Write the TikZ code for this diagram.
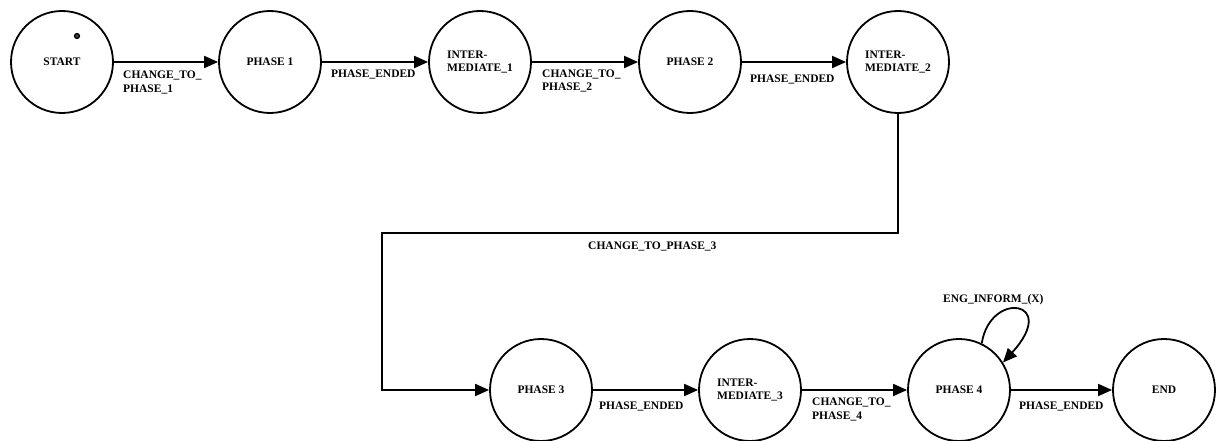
\documentclass[tikz,border=0pt]{standalone}
\usepackage{fontspec}
\setmainfont{Liberation Serif}
\usetikzlibrary{arrows.meta}
\begin{document}
\begin{tikzpicture}[x=1pt,y=-1pt]
\tikzstyle{state}=[draw,circle,line width=1.8pt,minimum size=102pt,inner sep=0pt,align=left,font=\fontsize{11.5}{13.5}\selectfont\bfseries]
\tikzstyle{arr}=[line width=1.8pt,-{Triangle[length=14pt,width=12pt]}]
\tikzstyle{lbl}=[inner sep=0pt,anchor=base west,align=left,font=\fontsize{11.5}{13.5}\selectfont\bfseries]
\useasboundingbox (0,0) rectangle (1216,441);

% Row 1: start to intermediate 2
\foreach \n/\x/\txt in {start/62/START,ph1/270/PHASE 1,im1/480/{INTER-\\MEDIATE\_1},ph2/690/PHASE 2,im2/898/{INTER-\\MEDIATE\_2}} {
  \node[state] (\n) at (\x,62) {\txt};
}
\node[circle,draw,line width=1.2pt,fill=black!75,inner sep=0pt,minimum size=5pt] (dot) at (77,36) {};

\draw[arr] (start) -- (ph1);
\node[lbl] (l1) at (123,92.5) {CHANGE\_TO\_\\PHASE\_1};
\draw[arr] (ph1) -- (im1);
\node[lbl] (l2) at (331,78) {PHASE\_ENDED};
\draw[arr] (im1) -- (ph2);
\node[lbl] (l3) at (542,91) {CHANGE\_TO\_\\PHASE\_2};
\draw[arr] (ph2) -- (im2);
\node[lbl] (l4) at (750,83) {PHASE\_ENDED};

% Row 2: phase 3 to end
\foreach \n/\x/\txt in {ph3/541/PHASE 3,im3/750/{INTER-\\MEDIATE\_3},ph4/959/PHASE 4,fin/1164/END} {
  \node[state] (\n) at (\x,390) {\txt};
}

% down and back to phase 3
\coordinate (c1) at (382,233);
\draw[arr] (im2) |- (c1) |- (ph3);
\node[lbl] (l5) at (588,249) {CHANGE\_TO\_PHASE\_3};

\draw[arr] (ph3) -- (im3);
\node[lbl] (l6) at (599,409) {PHASE\_ENDED};
\draw[arr] (im3) -- (ph4);
\node[lbl] (l7) at (812,419) {CHANGE\_TO\_\\PHASE\_4};
\draw[arr] (ph4) -- (fin);
\node[lbl] (l8) at (1019,409) {PHASE\_ENDED};

% self loop on phase 4
\draw[arr] (ph4.64) .. controls (990,290) and (1060,300) .. (ph4.32);
\node[lbl] (l9) at (943,302) {ENG\_INFORM\_(X)};
\end{tikzpicture}
\end{document}
